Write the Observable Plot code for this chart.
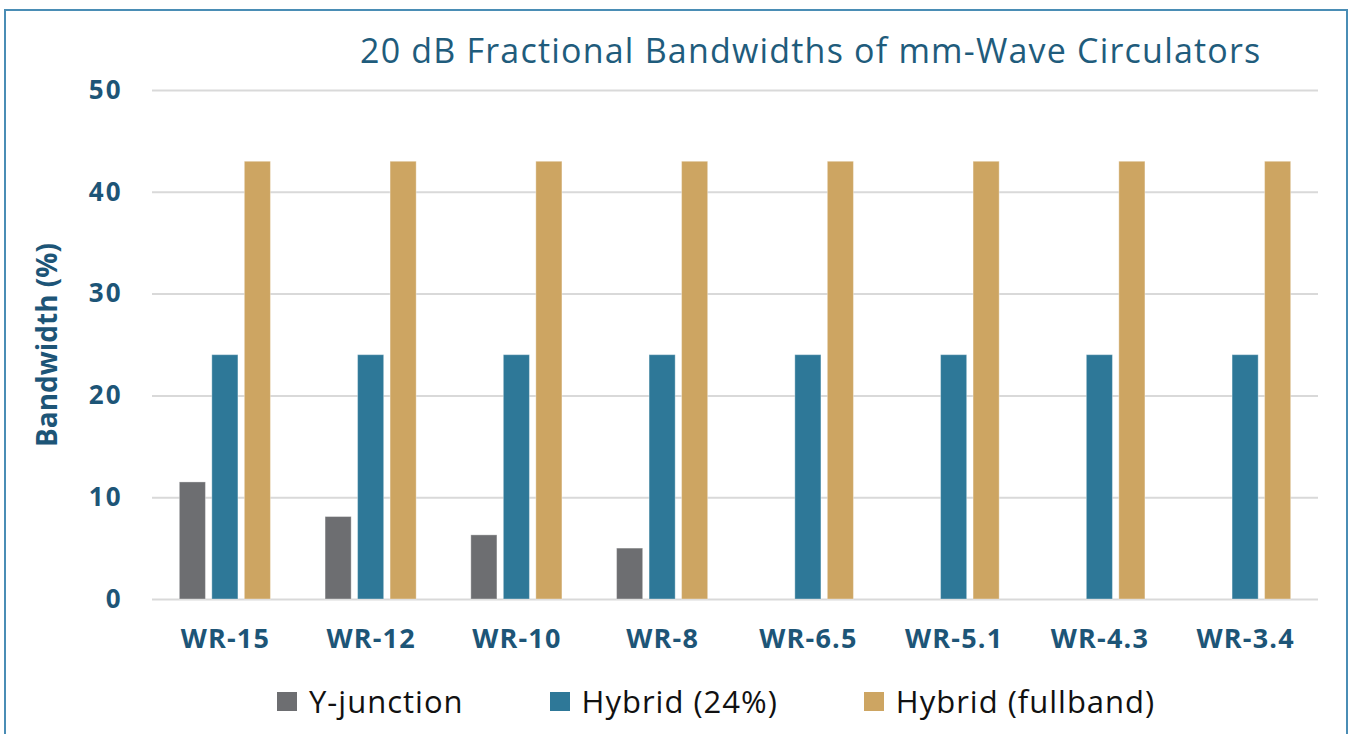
<!DOCTYPE html>
<html>
<head>
<meta charset="utf-8">
<script src="https://cdn.jsdelivr.net/npm/d3@7"></script>
<script src="https://cdn.jsdelivr.net/npm/@observablehq/plot@0.6"></script>
<style>
  html, body { margin: 0; padding: 0; background: #ffffff; width: 1351px; height: 734px; overflow: hidden; }
  #frame { position: absolute; left: 4px; top: 9px; width: 1344px; height: 760px; border: 2px solid #4a8db5; box-sizing: border-box; }
  #title { position: absolute; left: 360px; top: 33px; font-family: "Open Sans", sans-serif; font-size: 34px; letter-spacing: 1.2px; line-height: 34px; color: #1f5c7c; white-space: nowrap; }
  #chart { position: absolute; left: 0; top: 70px; }
  #legend { position: absolute; left: 277px; top: 680px; display: flex; align-items: center; font-family: "Open Sans", sans-serif; font-size: 31px; letter-spacing: 1px; color: #111; white-space: nowrap; }
  .item { display: flex; align-items: center; margin-right: 86px; }
  .sw { width: 20px; height: 19px; margin-right: 12px; }
</style>
</head>
<body>
<div id="frame"></div>
<div id="title">20 dB Fractional Bandwidths of mm-Wave Circulators</div>
<div id="chart"></div>
<div id="legend"></div>
<script>
const categories = ["WR-15", "WR-12", "WR-10", "WR-8", "WR-6.5", "WR-5.1", "WR-4.3", "WR-3.4"];
const yJunction = [11.5, 8.1, 6.3, 5.0, null, null, null, null];
const hybrid24 = [24, 24, 24, 24, 24, 24, 24, 24];
const hybridFullband = [43, 43, 43, 43, 43, 43, 43, 43];
const seriesNames = ["Y-junction", "Hybrid (24%)", "Hybrid (fullband)"];
const seriesColors = ["#6d6e71", "#2e7898", "#cda562"];
const yTicks = [0, 10, 20, 30, 40, 50];

const seriesValues = [yJunction, hybrid24, hybridFullband];
const rows = seriesValues.map((vals, s) =>
  categories.map((c, i) => ({category: c, series: seriesNames[s], value: vals[i]}))
);

const barW = 26;
const bandW = 91;
const insets = [
  {insetLeft: 0, insetRight: bandW - barW},
  {insetLeft: (bandW - barW) / 2, insetRight: (bandW - barW) / 2},
  {insetLeft: bandW - barW, insetRight: 0}
];

const tickColor = "#1d5577";

const chart = Plot.plot({
  width: 1351,
  height: 589,
  marginLeft: 152,
  marginRight: 33,
  marginTop: 20,
  marginBottom: 60,
  style: {fontFamily: "'Open Sans', sans-serif", background: "transparent"},
  x: {domain: categories, paddingInner: 0.375, paddingOuter: 0.1875, round: false, label: null},
  y: {domain: [0, 50], label: "Bandwidth (%)"},
  marks: [
    Plot.ruleY(yTicks, {stroke: "#d9d9d9", strokeWidth: 2}),
    ...rows.map((r, s) => Plot.barY(r, {
      x: "category", y: "value", fill: seriesColors[s],
      stroke: "#ffffff", strokeOpacity: 0.35, strokeWidth: 1,
      ...insets[s]
    })),
    Plot.axisX({tickSize: 0, tickPadding: 29, fontSize: 27, fontWeight: "bold", color: tickColor, label: null}),
    Plot.axisY({ticks: yTicks, tickSize: 0, tickPadding: 30, fontSize: 26, fontWeight: "bold", color: tickColor,
      label: "Bandwidth (%)", labelAnchor: "center", labelOffset: 115, labelArrow: "none"})
  ]
});
document.getElementById("chart").appendChild(chart);
chart.querySelectorAll("[aria-label='x-axis tick label'] text").forEach(el => {
  el.setAttribute("letter-spacing", "1.2");
});
chart.querySelectorAll("[aria-label='y-axis tick label'] text").forEach(el => {
  el.setAttribute("letter-spacing", "2");
});
chart.querySelectorAll("[aria-label='y-axis label'] text, [aria-label='y-axis label']").forEach(el => {
  el.setAttribute("font-size", 28);
  el.setAttribute("font-weight", "bold");
});

const legend = document.getElementById("legend");
seriesNames.forEach((name, i) => {
  const item = document.createElement("div");
  item.className = "item";
  const sw = document.createElement("div");
  sw.className = "sw";
  sw.style.background = seriesColors[i];
  const label = document.createElement("span");
  label.textContent = name;
  item.appendChild(sw);
  item.appendChild(label);
  legend.appendChild(item);
});
</script>
</body>
</html>
